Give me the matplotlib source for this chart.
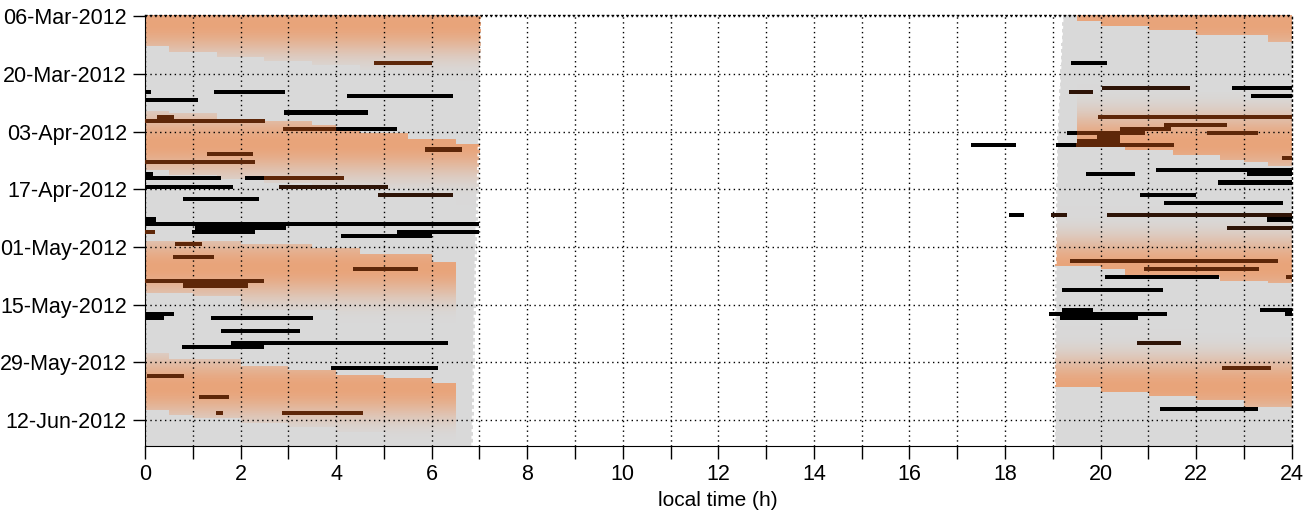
import numpy as np
import matplotlib
matplotlib.use('Agg')
import matplotlib.pyplot as plt
from matplotlib.ticker import MultipleLocator

plt.rcParams['font.family'] = ['Liberation Sans', 'DejaVu Sans']

# y axis = days since 06-Mar-2012 (one row per day, dates going down)
date_ticks = [0, 14, 28, 42, 56, 70, 84, 98]
date_labels = ['06-Mar-2012', '20-Mar-2012', '03-Apr-2012', '17-Apr-2012',
               '01-May-2012', '15-May-2012', '29-May-2012', '12-Jun-2012']

# night limits (local hour) read at a few days
sun_days = [-1, 30, 60, 105]
sunrise = [7.05, 7.0, 6.93, 6.86]
sunset = [19.2, 19.08, 19.05, 19.03]

# moonlit periods: hour slots, first / last day the moon is up in each slot,
# and the day of full moon (brightest part of the band)
moon_bands = [
    # after midnight
    dict(full=2, h=[0, 0.5, 1.5, 2.5, 3.5, 4.5, 5.5, 6.5, 7.2],
         top=[-1, -1, -1, -1, -1, -1, -1, 0],
         bot=[7.3, 8.7, 10.0, 11.0, 12.0, 13.2, 14.6, 15.8]),
    dict(full=31, h=[0, 0.5, 1.5, 2.5, 3.5, 4.0, 4.5, 5.5, 6.5, 7.2],
         top=[23, 23.5, 25, 25.5, 26.5, 27.6, 28.5, 30, 31],
         bot=[37.3, 38.5, 39.7, 40.5, 41, 41, 42, 43.7, 46]),
    dict(full=61, h=[0, 1, 2, 3.5, 4, 4.5, 6, 6.5],
         top=[54.5, 54.5, 55.3, 56.2, 56.2, 57.8, 59.8],
         bot=[67.2, 68.0, 71.3, 71.3, 74.4, 74.4, 74.4]),
    dict(full=90, h=[0, 0.5, 1, 2, 3, 4, 5, 6, 6.5],
         top=[81.8, 83.2, 83.2, 85, 85.8, 87, 87.8, 89],
         bot=[95.5, 96.8, 97.5, 98.8, 99.6, 100.8, 102.8, 102.8]),
    # evening
    dict(full=2, h=[19.5, 20, 21, 22, 23.5, 24],
         top=[-1, -1, -1, -1, -1],
         bot=[1.2, 2.6, 3.5, 4.6, 6.5]),
    dict(full=31, h=[19.5, 20.5, 21.5, 22, 22.5, 23, 23.5, 24],
         top=[16.5, 16.5, 16.5, 18.5, 18.5, 20.5, 20.5],
         bot=[31.6, 32.6, 33.8, 33.8, 35, 35.5, 36.5]),
    dict(full=61, h=[18.9, 20, 20.5, 21.5, 22.5, 23.5, 24],
         top=[44, 44, 46, 47, 48.5, 50],
         bot=[60.7, 61.5, 62.8, 63.4, 64.4, 64.8]),
    dict(full=90, h=[18.9, 20, 21, 22, 23, 24],
         top=[74.5, 75, 76, 77, 78],
         bot=[89.9, 91.1, 92.3, 93.1, 94.8]),
]

# detections: (day, start hour, end hour, colour code)
bars = [
    (11, 4.8, 6.0, 'b'),
    (18, 0.0, 0.13, 'k'), (18, 1.44, 2.94, 'k'),
    (19, 4.22, 6.44, 'k'),
    (20, 0.0, 1.11, 'k'),
    (23, 2.9, 4.66, 'k'),
    (24, 0.25, 0.6, 'b'),
    (25, 0.0, 2.51, 'b'),
    (27, 2.89, 4.0, 'b'), (27, 4.0, 5.27, 'k'),
    (32, 5.87, 6.64, 'b'),
    (33, 1.29, 2.27, 'b'),
    (35, 0.0, 2.3, 'b'),
    (38, 0.0, 0.16, 'k'),
    (39, 0.0, 1.59, 'k'), (39, 2.09, 2.49, 'k'), (39, 2.49, 4.16, 'b'),
    (41, 0.0, 1.84, 'k'), (41, 2.8, 5.08, 'd'),
    (43, 4.87, 6.44, 'd'),
    (44, 0.79, 2.38, 'k'),
    (49, 0.0, 0.24, 'k'),
    (50, 0.0, 7.0, 'k'),
    (51, 1.05, 2.96, 'k'),
    (52, 0.0, 0.2, 'b'), (52, 0.98, 2.3, 'k'), (52, 5.27, 7.0, 'k'),
    (53, 4.1, 6.0, 'k'),
    (55, 0.63, 1.19, 'b'),
    (58, 0.59, 1.44, 'b'),
    (61, 4.35, 5.71, 'b'),
    (64, 0.0, 2.49, 'b'),
    (65, 0.79, 2.15, 'b'),
    (72, 0.0, 0.6, 'k'),
    (73, 0.0, 0.4, 'k'), (73, 1.38, 3.52, 'k'),
    (76, 1.59, 3.24, 'k'),
    (79, 1.8, 6.34, 'k'),
    (80, 0.77, 2.49, 'k'),
    (85, 3.89, 6.13, 'k'),
    (87, 0.04, 0.82, 'b'),
    (92, 1.13, 1.76, 'b'),
    (96, 1.48, 1.63, 'b'), (96, 2.86, 4.56, 'b'),
    (11, 19.39, 20.14, 'k'),
    (17, 20.03, 21.87, 'd'), (17, 22.75, 24.0, 'k'),
    (18, 19.34, 19.84, 'd'),
    (19, 23.14, 24.0, 'k'),
    (24, 19.95, 24.0, 'b'),
    (26, 21.33, 22.64, 'b'),
    (27, 20.41, 21.47, 'b'),
    (28, 19.3, 19.5, 'k'), (28, 19.5, 20.94, 'b'), (28, 22.22, 23.29, 'b'),
    (29, 19.93, 20.41, 'b'),
    (30, 19.5, 20.41, 'b'),
    (31, 17.29, 18.23, 'k'), (31, 19.07, 19.49, 'k'), (31, 19.49, 21.53, 'b'),
    (34, 23.79, 24.0, 'b'),
    (37, 21.16, 24.0, 'k'),
    (38, 19.69, 20.72, 'k'), (38, 23.07, 24.0, 'k'),
    (40, 22.45, 24.0, 'k'),
    (43, 20.82, 22.0, 'k'),
    (45, 21.33, 23.81, 'k'),
    (48, 18.08, 18.4, 'k'), (48, 18.96, 19.3, 'd'), (48, 20.14, 24.0, 'd'),
    (49, 23.48, 24.0, 'k'),
    (51, 22.64, 24.0, 'd'),
    (59, 19.36, 23.71, 'b'),
    (61, 20.91, 23.31, 'b'),
    (63, 20.09, 22.47, 'k'), (63, 23.88, 24.0, 'b'),
    (66, 19.19, 21.3, 'k'),
    (71, 19.2, 19.85, 'k'), (71, 23.33, 24.0, 'k'),
    (72, 18.92, 21.39, 'k'), (72, 23.86, 24.0, 'k'),
    (73, 19.15, 20.78, 'k'),
    (79, 20.76, 21.68, 'd'),
    (85, 22.54, 23.56, 'b'),
    (95, 21.24, 23.29, 'k'),
]

bar_colors = {'k': '#000000', 'b': '#5e2709', 'd': '#2e1407'}
gray = np.array([217, 217, 217]) / 255.
orange = np.array([233, 164, 122]) / 255.

# background raster: white day, grey night, orange where the moon is up
hh = np.arange(0, 24, 0.02) + 0.01
dd = np.arange(-1, 105.5, 0.1) + 0.05
H, D = np.meshgrid(hh, dd)
rise = np.interp(dd, sun_days, sunrise)[:, None]
sset = np.interp(dd, sun_days, sunset)[:, None]
night = (H < rise) | (H > sset)

shade = np.zeros_like(H)
for b in moon_bands:
    # colour fades away from full moon
    s = 0.5 * (1 + np.cos(np.pi * np.clip((dd - b['full']) / 14.8, -1, 1)))
    s = np.broadcast_to((s ** 1.6)[:, None], H.shape)
    for h0, h1, t, bt in zip(b['h'][:-1], b['h'][1:], b['top'], b['bot']):
        m = (H >= h0) & (H < h1) & (D >= t) & (D < bt)
        shade[m] = np.maximum(shade[m], s[m])

img = np.ones(H.shape + (3,))
col = gray[None, None, :] * (1 - shade[..., None]) + orange[None, None, :] * shade[..., None]
img[night] = col[night]

fig = plt.figure(figsize=(13.06, 5.11), dpi=100)
ax = fig.add_axes([0.111, 0.127, 0.878, 0.844])
ax.imshow(img, extent=[0, 24, dd[-1] + 0.05, dd[0] - 0.05], aspect='auto',
          interpolation='nearest', zorder=0)

# ragged white rim on the night edges
ax.plot(sunrise, sun_days, color='white', lw=2.2, ls=(0, (1, 1.2)), zorder=1)
ax.plot(sunset, sun_days, color='white', lw=2.2, ls=(0, (1, 1.2)), zorder=1)

for day, h0, h1, c in bars:
    ax.broken_barh([(h0, h1 - h0)], (day - 0.2, 1.0), facecolors=bar_colors[c],
                   edgecolor='none', zorder=3)

ax.set_xlim(0, 24)
ax.set_ylim(104.3, -0.4)
ax.xaxis.set_major_locator(MultipleLocator(2))
ax.xaxis.set_minor_locator(MultipleLocator(1))
ax.set_yticks(date_ticks)
ax.set_yticklabels(date_labels)
dots = (0, (1, 2.5))
ax.grid(which='both', axis='x', linestyle=dots, color='k', linewidth=1.0, zorder=2)
ax.grid(which='major', axis='y', linestyle=dots, color='k', linewidth=1.0, zorder=2)
ax.set_axisbelow(False)
for sp in ['top', 'right']:
    ax.spines[sp].set_linestyle(dots)
    ax.spines[sp].set_linewidth(1.0)
ax.tick_params(which='both', direction='out', length=9, width=1, labelsize=15.5,
               pad=4)
ax.set_xlabel('local time (h)', fontsize=15, labelpad=4)

plt.savefig('out.png', dpi=100)
